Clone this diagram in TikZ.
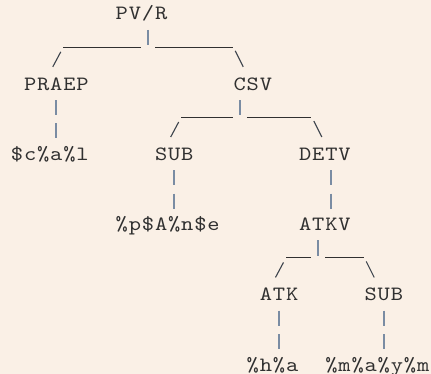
\documentclass[tikz,border=0pt]{standalone}
\usepackage{fontspec}
\newfontfamily\asciifont{lmmono10-regular.otf}
\definecolor{paper}{HTML}{FAF0E6}
\definecolor{ink}{HTML}{303030}
\definecolor{barink}{HTML}{7A8CA3}
\definecolor{slashink}{HTML}{3C434C}
% character grid: cell width 13.1pt, line pitch 23.4pt
\makeatletter
\newcommand\spreadchars[1]{\@tfor\asciichar:=#1\do{\makebox[13.1pt][c]{\scalebox{1.15}[1]{\asciichar}}}}
\makeatother
\newcommand\cellx[1]{10.5+13.1*(#1)}
\newcommand\basey[1]{20+23.4*(#1)}
% tree label at (column,row); the box keeps no depth below the baseline
\newcommand\asciiLabel[4]{\node[lbl] (#1) at ({\cellx{#2}},{\basey{#3}}) {\raisebox{0pt}[\height][0pt]{\spreadchars{#4}}};}
% '|' stroke in one cell, centred on a whole point so it stays crisp
\newcommand\asciiBar[2]{\draw[barline] ({round(\cellx{#1}+6.55)},{\basey{#2}-13.5}) -- ({round(\cellx{#1}+6.55)},{\basey{#2}+1.5});}
% run of '_' from column #1 to column #2
\newcommand\asciiRule[3]{\draw[ruleline] ({\cellx{#1}+0.5},{\basey{#3}+3.7}) -- ({\cellx{#2+1}-0.5},{\basey{#3}+3.7});}
% '/' and '\' strokes
\newcommand\asciiFwd[2]{\draw[slashline] ({\cellx{#1}+3},{\basey{#2}}) -- ({\cellx{#1}+11},{\basey{#2}-15});}
\newcommand\asciiBwd[2]{\draw[slashline] ({\cellx{#1}+2},{\basey{#2}-16}) -- ({\cellx{#1}+10},{\basey{#2}});}
\begin{document}
\begin{tikzpicture}[x=1pt,y=-1pt,
  lbl/.style={anchor=base west,inner sep=0pt,outer sep=0pt,text=ink,
    font=\asciifont\fontsize{20.3}{24}\selectfont},
  barline/.style={draw=barink,line width=2pt},
  ruleline/.style={draw=ink,line width=1.1pt},
  slashline/.style={draw=slashink,line width=1.1pt}]
\fill[paper] (0,0) rectangle (431,374);
\useasboundingbox (0,0) rectangle (431,374);

% labels
\asciiLabel{pvr}{8}{0}{PV/R}
\asciiLabel{praep}{1}{3}{PRAEP}
\asciiLabel{csv}{17}{3}{CSV}
\asciiLabel{cal}{0}{6}{\$c\%a\%l}
\asciiLabel{subA}{11}{6}{SUB}
\asciiLabel{detv}{22}{6}{DETV}
\asciiLabel{pane}{8}{9}{\%p\$A\%n\$e}
\asciiLabel{atkv}{22}{9}{ATKV}
\asciiLabel{atk}{19}{12}{ATK}
\asciiLabel{subB}{27}{12}{SUB}
\asciiLabel{hia}{18}{15}{\%h\%a}
\asciiLabel{maym}{24}{15}{\%m\%a\%y\%m}

% PV/R -> PRAEP, CSV
\asciiBar{10}{1}
\asciiRule{4}{9}{1}
\asciiRule{11}{16}{1}
\asciiFwd{3}{2}
\asciiBwd{17}{2}

% PRAEP -> $c%a%l
\asciiBar{3}{4}
\asciiBar{3}{5}

% CSV -> SUB, DETV
\asciiRule{13}{16}{4}
\asciiBar{17}{4}
\asciiRule{18}{22}{4}
\asciiFwd{12}{5}
\asciiBwd{23}{5}

% SUB -> %p$A%n$e, DETV -> ATKV
\asciiBar{12}{7}
\asciiBar{12}{8}
\asciiBar{24}{7}
\asciiBar{24}{8}

% ATKV -> ATK, SUB
\asciiRule{21}{22}{10}
\asciiBar{23}{10}
\asciiRule{24}{26}{10}
\asciiFwd{20}{11}
\asciiBwd{27}{11}

% ATK -> %h%a, SUB -> %m%a%y%m
\asciiBar{20}{13}
\asciiBar{20}{14}
\asciiBar{28}{13}
\asciiBar{28}{14}
\end{tikzpicture}
\end{document}
